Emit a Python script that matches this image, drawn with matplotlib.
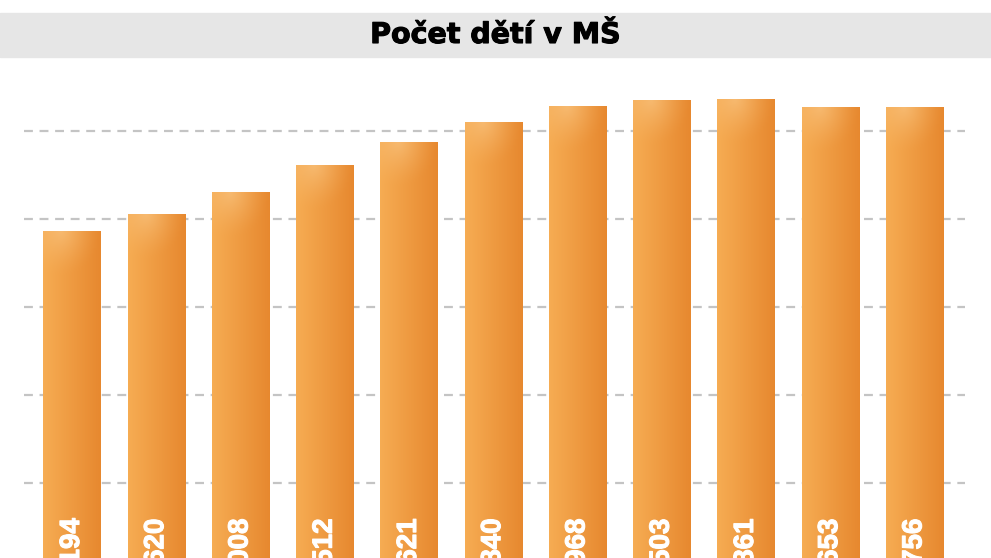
import matplotlib
matplotlib.use("Agg")
import matplotlib.pyplot as plt
import matplotlib.patheffects as pe
from matplotlib.patches import Rectangle
import numpy as np

# pocet deti v MS (cisla dole jsou v originale useknuta)
years = ["2008", "2009", "2010", "2011", "2012", "2013",
         "2014", "2015", "2016", "2017", "2018"]
children = [293194, 302620, 315008, 330512, 343621, 354840,
            363968, 367503, 367861, 363653, 363756]
labels = [f"{v:,}".replace(",", " ") for v in children]

W, H = 991, 558
fig = plt.figure(figsize=(W / 100, H / 100), dpi=100)

# osa je vetsi nez obrazek - spodek grafu je oriznuty
y_top, y_base = 77.9, 747.3
ax = fig.add_axes([24 / W, (H - y_base) / H, 941 / W, (y_base - y_top) / H])
ax.set_xlim(-0.57, 10.6)
ax.set_ylim(0, 380000)
ax.axis("off")

for g in range(50000, 380000, 50000):
    ax.axhline(g, color="#c4c4c4", lw=1.6, dashes=(4, 3), zorder=0)

# gradient pro sloupce
nx, ny = 64, 256
gx = np.linspace(0, 1, nx)[None, :]
gy = np.linspace(0, 1, ny)[:, None]
left = np.array([0.965, 0.675, 0.325])
right = np.array([0.905, 0.535, 0.185])
hi = np.array([0.975, 0.76, 0.49])

xs = np.arange(len(children))
bars = ax.bar(xs, children, width=0.68, color="#ef9a3e", zorder=1, lw=0)
for b, v in zip(bars, children):
    x0, w = b.get_x(), b.get_width()
    img = left[None, None, :] * (1 - gx[..., None]) + right[None, None, :] * gx[..., None]
    img = np.repeat(img, ny, axis=0)
    # svetla skvrna nahore vlevo, v pixelech od vrchu sloupce
    px = gx * 58
    py = (1 - gy) * v / 50000 * 88.08
    d = np.sqrt(((px - 18) / 40) ** 2 + ((py - 0) / 45) ** 2)
    a = np.clip(1 - d, 0, 1)[..., None] ** 1.5 * 0.75
    img = img * (1 - a) + hi[None, None, :] * a
    im = ax.imshow(img, extent=(x0, x0 + w, 0, v), origin="lower",
                   aspect="auto", zorder=2, interpolation="bilinear")
    im.set_clip_path(b)

for x, lab in zip(xs, labels):
    ax.text(x, 130000, lab, rotation=90, ha="center", va="top",
            color="white", fontsize=20, fontweight="bold",
            family="Liberation Sans", zorder=3,
            path_effects=[pe.withStroke(linewidth=0.8, foreground="white")])

# sedy pruh s nadpisem
fig.patches.append(Rectangle((0, (H - 56.5) / H), 1, 43.2 / H,
                             transform=fig.transFigure, color="#e6e6e6",
                             zorder=5))
fig.text(0.5, (H - 35) / H, "Počet dětí v MŠ", ha="center", va="center",
         fontsize=20.5, fontweight="heavy", family="DejaVu Sans",
         color="black", zorder=6,
         path_effects=[pe.withStroke(linewidth=0.8, foreground="black")])

fig.savefig("out.png", dpi=100)
